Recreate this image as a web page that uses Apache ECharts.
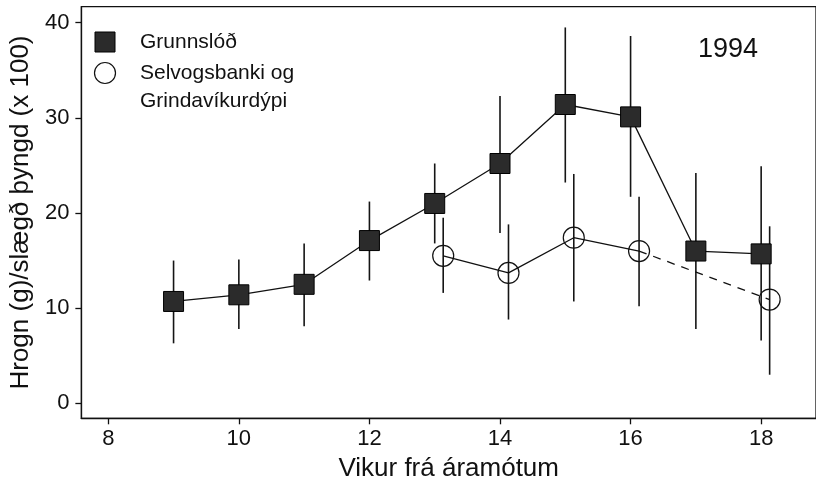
<!DOCTYPE html>
<html>
<head>
<meta charset="utf-8">
<script src="https://cdn.jsdelivr.net/npm/echarts@6/dist/echarts.min.js"></script>
<style>
  html, body { margin: 0; padding: 0; background: #fff; }
  #chart { width: 816px; height: 488px; }
</style>
</head>
<body>
<div id="chart"></div>
<script>
// Shallow-ground samples (filled squares), weeks 9-18
const shallowWeeks = [9, 10, 11, 12, 13, 14, 15, 16, 17, 18];
const shallowMean  = [10.7, 11.4, 12.5, 17.1, 21.0, 25.2, 31.4, 30.1, 16.0, 15.7];
const shallowHigh  = [15.0, 15.1, 16.8, 21.2, 25.2, 32.3, 39.5, 38.6, 24.2, 24.9];
const shallowLow   = [6.3, 7.8, 8.1, 12.9, 16.8, 17.9, 23.2, 21.7, 7.8, 6.6];

// Selvogsbanki / Grindavíkurdýpi samples (open circles), weeks 13-18, no sample in week 17
const bankWeeks = [13, 14, 15, 16, 17, 18];
const bankMean  = [15.5, 13.7, 17.4, 16.0, null, 10.9];
const bankHigh  = [19.5, 18.8, 24.1, 21.7, null, 18.6];
const bankLow   = [11.6, 8.8, 10.7, 10.2, null, 3.0];

const xTicks = [8, 10, 12, 14, 16, 18];
const yTicks = [0, 10, 20, 30, 40];

// open circles are nudged right so their bars do not overlap the squares
const bankDodge = 0.13;

const FONT = '"Liberation Sans", Arial, Helvetica, sans-serif';

const shallowPts = shallowWeeks.map((w, i) => [w, shallowMean[i]]);
const shallowBars = shallowWeeks.map((w, i) => [w, shallowLow[i], shallowHigh[i]]);

const bankPts = [];
const bankBars = [];
bankWeeks.forEach((w, i) => {
  if (bankMean[i] == null) {
    bankPts.push([w + bankDodge, null]);
  } else {
    bankPts.push([w + bankDodge, bankMean[i]]);
    bankBars.push([w + bankDodge, bankLow[i], bankHigh[i]]);
  }
});

// dashed bridge across the missing week(s)
const bridgePts = [];
for (let i = 0; i < bankPts.length; i++) {
  if (bankPts[i][1] == null) {
    let a = i - 1, b = i + 1;
    while (b < bankPts.length && bankPts[b][1] == null) b++;
    if (a >= 0 && b < bankPts.length) {
      bridgePts.push(bankPts[a], bankPts[b], [null, null]);
    }
    i = b - 1;
  }
}

function errorBar(params, api) {
  const x = api.value(0);
  const p1 = api.coord([x, api.value(1)]);
  const p2 = api.coord([x, api.value(2)]);
  return {
    type: 'line',
    shape: { x1: p1[0], y1: p1[1], x2: p2[0], y2: p2[1] },
    style: { stroke: '#151515', lineWidth: 1.6 }
  };
}

const chart = echarts.init(document.getElementById('chart'), null, { renderer: 'canvas' });

chart.setOption({
  animation: false,
  backgroundColor: '#fff',
  grid: {
    left: 80, top: 6.7, width: 737, height: 411.6,
    show: true, borderColor: '#111', borderWidth: 1.3, backgroundColor: 'transparent'
  },
  xAxis: {
    type: 'value',
    min: 7.588, max: 18.84,
    name: 'Vikur frá áramótum',
    nameLocation: 'middle',
    nameGap: 38,
    nameTextStyle: { fontFamily: FONT, fontSize: 26, color: '#111' },
    axisLine: { show: true, onZero: false, lineStyle: { color: '#111', width: 1.3 } },
    axisTick: { show: true, inside: false, length: 6, customValues: xTicks, lineStyle: { color: '#111', width: 1.3 } },
    axisLabel: { customValues: xTicks, fontFamily: FONT, fontSize: 22, color: '#111', margin: 10 },
    splitLine: { show: false }
  },
  yAxis: {
    type: 'value',
    min: -1.58, max: 41.68,
    name: 'Hrogn (g)/slægð þyngd (x 100)',
    nameLocation: 'middle',
    nameGap: 38,
    nameRotate: 90,
    nameTextStyle: { fontFamily: FONT, fontSize: 26, color: '#111' },
    axisLine: { show: true, onZero: false, lineStyle: { color: '#111', width: 1.3 } },
    axisTick: { show: true, inside: false, length: 6, customValues: yTicks, lineStyle: { color: '#111', width: 1.3 } },
    axisLabel: { customValues: yTicks, fontFamily: FONT, fontSize: 22, color: '#111', margin: 12 },
    splitLine: { show: false }
  },
  series: [
    {
      name: 'bankBars',
      type: 'custom',
      renderItem: errorBar,
      data: bankBars,
      z: 1
    },
    {
      name: 'shallowBars',
      type: 'custom',
      renderItem: errorBar,
      data: shallowBars,
      z: 1
    },
    {
      name: 'bankBridge',
      type: 'line',
      data: bridgePts,
      showSymbol: false,
      connectNulls: false,
      lineStyle: { color: '#111', width: 1.3, type: [8, 7] },
      z: 2
    },
    {
      name: 'Selvogsbanki og Grindavíkurdýpi',
      type: 'line',
      data: bankPts,
      connectNulls: false,
      symbol: 'circle',
      symbolSize: 21,
      showAllSymbol: true,
      itemStyle: { color: 'rgba(255,255,255,0)', borderColor: '#111', borderWidth: 1.2 },
      lineStyle: { color: '#111', width: 1.3 },
      z: 3
    },
    {
      name: 'Grunnslóð',
      type: 'line',
      data: shallowPts,
      symbol: 'rect',
      symbolSize: 20,
      itemStyle: { color: '#2b2b2b', borderColor: '#000', borderWidth: 1 },
      lineStyle: { color: '#111', width: 1.3 },
      z: 4
    }
  ],
  graphic: [
    { type: 'rect', shape: { x: 95, y: 32, width: 20, height: 20 },
      style: { fill: '#2b2b2b', stroke: '#000', lineWidth: 1 } },
    { type: 'circle', shape: { cx: 105, cy: 73, r: 10.5 },
      style: { fill: '#fff', stroke: '#111', lineWidth: 1.2 } },
    { type: 'text', x: 140, y: 42,
      style: { text: 'Grunnslóð', font: '21px ' + FONT, fill: '#111', verticalAlign: 'middle' } },
    { type: 'text', x: 140, y: 73,
      style: { text: 'Selvogsbanki og', font: '21px ' + FONT, fill: '#111', verticalAlign: 'middle' } },
    { type: 'text', x: 140, y: 101,
      style: { text: 'Grindavíkurdýpi', font: '21px ' + FONT, fill: '#111', verticalAlign: 'middle' } },
    { type: 'text', x: 728, y: 50,
      style: { text: '1994', font: '27px ' + FONT, fill: '#111', align: 'center', verticalAlign: 'middle' } }
  ]
});
</script>
</body>
</html>
